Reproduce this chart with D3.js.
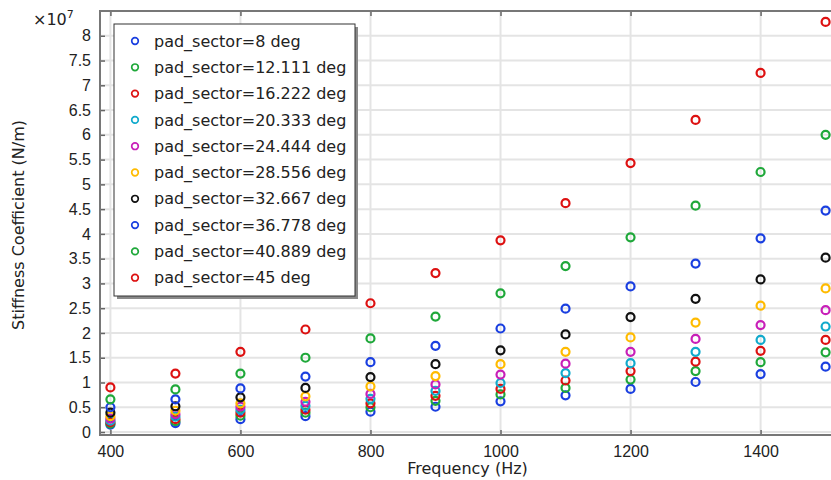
<!DOCTYPE html>
<html>
<head>
<meta charset="utf-8">
<script src="https://cdn.jsdelivr.net/npm/d3@7"></script>
<style>
  body { margin: 0; background: #fff; }
  svg { font-family: "DejaVu Sans", sans-serif; }
</style>
</head>
<body>
<svg id="chart"></svg>
<script>
// frequencies (Hz)
const freqs = [400, 500, 600, 700, 800, 900, 1000, 1100, 1200, 1300, 1400, 1500];
// legend labels
const sectors = ["8", "12.111", "16.222", "20.333", "24.444", "28.556", "32.667", "36.778", "40.889", "45"];
// stiffness values, units of 1e7 N/m, one array per pad_sector
const k_8      = [0.15, 0.18, 0.26, 0.32, 0.41, 0.51, 0.62, 0.74, 0.87, 1.01, 1.17, 1.32];
const k_12_111 = [0.17, 0.22, 0.33, 0.39, 0.50, 0.63, 0.76, 0.89, 1.06, 1.23, 1.41, 1.61];
const k_16_222 = [0.20, 0.26, 0.39, 0.45, 0.58, 0.73, 0.87, 1.04, 1.23, 1.42, 1.64, 1.86];
const k_20_333 = [0.23, 0.31, 0.45, 0.53, 0.67, 0.83, 0.99, 1.19, 1.39, 1.62, 1.86, 2.13];
const k_24_444 = [0.27, 0.36, 0.51, 0.61, 0.77, 0.96, 1.16, 1.38, 1.62, 1.88, 2.16, 2.46];
const k_28_556 = [0.32, 0.43, 0.58, 0.72, 0.92, 1.13, 1.37, 1.62, 1.91, 2.21, 2.55, 2.90];
const k_32_667 = [0.39, 0.52, 0.70, 0.89, 1.11, 1.37, 1.65, 1.97, 2.32, 2.69, 3.08, 3.52];
const k_36_778 = [0.50, 0.66, 0.88, 1.12, 1.41, 1.74, 2.09, 2.49, 2.94, 3.40, 3.91, 4.47];
const k_40_889 = [0.66, 0.86, 1.18, 1.50, 1.89, 2.33, 2.80, 3.35, 3.93, 4.57, 5.25, 6.00];
const k_45     = [0.90, 1.18, 1.62, 2.07, 2.60, 3.21, 3.87, 4.62, 5.43, 6.30, 7.25, 8.28];
const series = [k_8, k_12_111, k_16_222, k_20_333, k_24_444, k_28_556, k_32_667, k_36_778, k_40_889, k_45];
const colors = ["#1a3fe0", "#1fa83a", "#dd1111", "#11aacc", "#c81fb8", "#ffbb00", "#111111", "#1a3fe0", "#1fa83a", "#dd1111"];
const yTicks = d3.range(0, 8.01, 0.5);
const xTicks = [400, 600, 800, 1000, 1200, 1400];

const W = 831, H = 480;
const svg = d3.select("#chart").attr("width", W).attr("height", H);

const pl = 100, pr = 836, pt = 11, pb = 435;

const x = d3.scaleLinear().domain([384, 1516]).range([pl, pr]);
const y = d3.scaleLinear().domain([-0.06, 8.5]).range([pb, pt]);

// grid
const grid = svg.append("g");
grid.selectAll(".gx").data(xTicks).enter().append("line")
  .attr("x1", d => x(d)).attr("x2", d => x(d))
  .attr("y1", pt).attr("y2", pb)
  .attr("stroke", "#e4e4e4").attr("stroke-width", 2);
grid.selectAll(".gy").data(yTicks).enter().append("line")
  .attr("x1", pl).attr("x2", pr)
  .attr("y1", d => y(d)).attr("y2", d => y(d))
  .attr("stroke", "#e4e4e4").attr("stroke-width", 2);

// axes (ticks pointing inward)
const fmt = d => d3.format("~g")(d);
const ax = svg.append("g");
ax.append("g").attr("transform", `translate(0,${pb})`)
  .call(d3.axisBottom(x).tickValues(xTicks).tickSize(-5).tickSizeOuter(0).tickPadding(11).tickFormat(d3.format("d")));
ax.append("g").attr("transform", `translate(0,${pt})`)
  .call(d3.axisTop(x).tickValues(xTicks).tickSize(-5).tickSizeOuter(0).tickFormat(""));
ax.append("g").attr("transform", `translate(${pl},0)`)
  .call(d3.axisLeft(y).tickValues(yTicks).tickSize(-5).tickSizeOuter(0).tickPadding(9).tickFormat(fmt));
ax.selectAll("text").style("font-size", "16px").attr("fill", "#222");
ax.selectAll(".tick line").attr("stroke", "#666").attr("stroke-width", 1.5);
ax.selectAll(".domain").attr("stroke", "none");

// frame
svg.append("rect")
  .attr("x", pl).attr("y", pt)
  .attr("width", pr - pl).attr("height", pb - pt)
  .attr("fill", "none").attr("stroke", "#777").attr("stroke-width", 2);

// multiplier
const mult = svg.append("text").attr("x", 33).attr("y", 25)
  .style("font-size", "16px").attr("fill", "#222");
mult.append("tspan").text("×10");
mult.append("tspan").attr("dy", -7).style("font-size", "11px").text("7");

// axis labels
svg.append("text")
  .attr("x", (pl + 831) / 2 + 2).attr("y", 474)
  .attr("text-anchor", "middle")
  .style("font-size", "16px").attr("fill", "#222")
  .text("Frequency (Hz)");
svg.append("text")
  .attr("transform", `translate(24,${(pt + pb) / 2 + 2}) rotate(-90)`)
  .attr("text-anchor", "middle")
  .style("font-size", "16px").attr("fill", "#222")
  .text("Stiffness Coefficient (N/m)");

// points
series.forEach((vals, s) => {
  svg.append("g").selectAll("circle")
    .data(vals.map((v, i) => ({ f: freqs[i], v: v })))
    .enter().append("circle")
    .attr("cx", d => x(d.f))
    .attr("cy", d => y(d.v))
    .attr("r", 4)
    .attr("fill", "none")
    .attr("stroke", colors[s])
    .attr("stroke-width", 2.2);
});

// legend
const lg = svg.append("g").attr("transform", "translate(114,24)");
const lw = 241, lh = 272;
lg.append("rect").attr("x", 3).attr("y", 3).attr("width", lw).attr("height", lh).attr("fill", "#8a8a8a");
lg.append("rect").attr("width", lw).attr("height", lh).attr("fill", "#fff").attr("stroke", "#333").attr("stroke-width", 1);
const items = lg.selectAll(".item").data(sectors).enter().append("g")
  .attr("transform", (d, i) => `translate(0,${17 + i * 26.3})`);
items.append("circle").attr("cx", 21).attr("cy", 0).attr("r", 3.3)
  .attr("fill", "none").attr("stroke", (d, i) => colors[i]).attr("stroke-width", 1.7);
items.append("text").attr("x", 40).attr("y", 0).attr("dy", "0.35em")
  .style("font-size", "16px").attr("fill", "#222")
  .text(d => `pad_sector=${d} deg`);
</script>
</body>
</html>
